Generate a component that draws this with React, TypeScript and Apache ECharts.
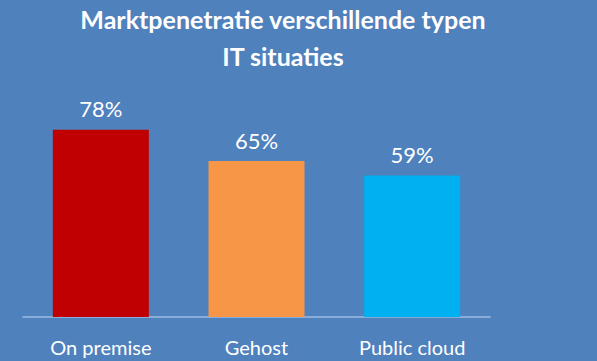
import React, { useEffect, useRef } from "react";
import * as echarts from "echarts";

const categories = ["On premise", "Gehost", "Public cloud"];
const values = [78, 65, 59];
const colors = ["#C00000", "#F79646", "#00B0F0"];
const titleText = "Marktpenetratie verschillende typen\nIT situaties";

export default function App() {
  const ref = useRef<HTMLDivElement>(null);
  useEffect(() => {
    if (!ref.current) return;
    const chart = echarts.init(ref.current, null, { renderer: "svg" });
    chart.setOption({
      animation: false,
      backgroundColor: "#4F81BD",
      title: {
        text: titleText,
        left: 283,
        textAlign: "center",
        top: 0,
        padding: 0,
        textStyle: {
          color: "#ffffff",
          fontFamily: "Lato",
          fontWeight: "bold",
          fontSize: 25,
          lineHeight: 37,
        },
      },
      grid: { left: 23, right: 107, top: 77, bottom: 44 },
      xAxis: {
        type: "category",
        data: categories,
        axisLine: { lineStyle: { color: "#9DBCE3", width: 1.5 } },
        axisTick: { show: false },
        axisLabel: {
          color: "#ffffff",
          fontFamily: "Lato",
          fontSize: 20,
          margin: 20,
        },
      },
      yAxis: {
        type: "value",
        min: 0,
        max: 100,
        show: false,
        splitLine: { show: false },
      },
      series: [
        {
          type: "bar",
          barWidth: 96,
          data: values.map((v, i) => ({ value: v, itemStyle: { color: colors[i] } })),
          label: {
            show: true,
            position: "top",
            distance: 10,
            formatter: "{c}%",
            color: "#ffffff",
            fontFamily: "Lato",
            fontSize: 22,
          },
        },
      ],
    });
    return () => chart.dispose();
  }, []);
  return <div ref={ref} style={{ width: 597, height: 361, position: "fixed", left: 0, top: 0 }} />;
}
